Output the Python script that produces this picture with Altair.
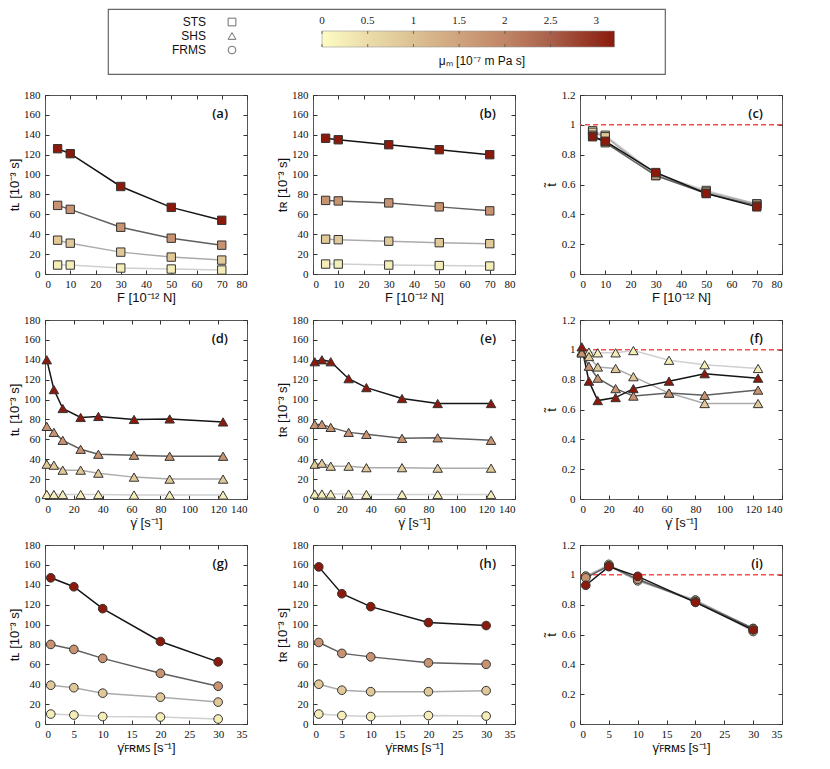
import altair as alt
import pandas as pd

# ---------------- data ----------------
MU = [0.24, 0.87, 1.77, 3.2]          # mu_m of the four series [1e-7 m Pa s]
LINE_GRAYS = ["#d0d0d0", "#ababab", "#5f5f5f", "#141414"]

CMAP_DOM = [0, 0.5, 1.0, 1.5, 2.0, 2.5, 3.2]
CMAP_RNG = ["#fefcc4", "#ebdcaa", "#dcc193", "#cfa37d", "#c08566", "#a9604b", "#8b1a0c"]

F_VALS = [5, 10, 30, 50, 70]
GD_VALS = [1.23, 6.17, 12.3, 24.7, 37.0, 61.7, 86.4, 123.4]
GF_VALS = [1, 5, 10, 20, 30]

tL_F = [[9, 9, 6, 5, 4],
        [34, 31, 22, 17, 14],
        [69, 65, 47, 36, 29],
        [126, 121, 88, 67, 54]]
tR_F = [[10, 10, 9, 8.5, 8],
        [35, 34.5, 33, 31.5, 30.5],
        [74, 73.5, 71.5, 67.5, 63.5],
        [136.5, 135, 130, 125, 120]]
tt_F = [[0.96, 0.93, 0.67, 0.56, 0.47],
        [0.95, 0.92, 0.66, 0.55, 0.47],
        [0.93, 0.88, 0.66, 0.54, 0.46],
        [0.92, 0.89, 0.68, 0.54, 0.45]]

tL_GD = [[4.5, 4.5, 4.5, 4.5, 4.5, 4, 4, 4],
         [35, 34, 29, 29, 26, 22, 20, 20],
         [73, 67, 59, 50, 45, 44, 43, 43],
         [140, 110, 91, 82, 83, 80, 80.5, 77.5]]
tR_GD = [[5, 5, 5, 5, 4.5, 4.5, 4.5, 4.5],
         [35, 36, 33, 33, 31.5, 31.5, 31, 31],
         [75, 75, 72, 67, 65, 61, 61.5, 59],
         [138, 140, 138, 121, 112, 101, 96, 96]]
tt_GD = [[0.99, 0.985, 0.98, 0.98, 0.995, 0.93, 0.90, 0.875],
         [0.98, 0.955, 0.885, 0.875, 0.82, 0.71, 0.64, 0.64],
         [0.98, 0.89, 0.81, 0.74, 0.69, 0.71, 0.695, 0.73],
         [1.02, 0.79, 0.66, 0.68, 0.74, 0.79, 0.84, 0.81]]

tL_GF = [[10, 9, 7.5, 7, 5],
         [39, 36.5, 31, 27, 22],
         [80, 75, 66, 51, 38],
         [147, 138, 116, 83, 62.5]]
tR_GF = [[10, 8.5, 7.5, 8.5, 8],
         [40, 34, 32.5, 32.5, 33.5],
         [82, 71, 67.5, 61.5, 60],
         [158, 131, 118, 102, 99]]
tt_GF = [[0.99, 1.07, 0.97, 0.83, 0.62],
         [0.99, 1.06, 0.96, 0.83, 0.64],
         [0.98, 1.06, 0.97, 0.82, 0.64],
         [0.93, 1.055, 0.99, 0.815, 0.63]]

CB_TICKS = [0, 0.5, 1, 1.5, 2, 2.5, 3]
CB_LABELS = ["0", "0.5", "1", "1.5", "2", "2.5", "3"]
LEG_NAMES = ["STS", "SHS", "FRMS"]
LEG_SHAPES = ["square", "triangle-up", "circle"]

# ---------------- style ----------------
W, H = 202, 179
LABEL_FONT = "Liberation Serif"
TITLE_FONT = "Liberation Sans"
cscale = alt.Scale(domain=CMAP_DOM, range=CMAP_RNG, interpolate="rgb")


def panel(xs, ys_list, shape, size, xdom, xticks, ydom, yticks, xtitle, ytitle,
          label, ref_line=False, yfmt="d", ytpad=2):
    rows = []
    for mu, ys in zip(MU, ys_list):
        for x, y in zip(xs, ys):
            rows.append({"x": x, "y": y, "mu": mu})
    df = pd.DataFrame(rows)
    base = alt.Chart(df)
    common = dict(offset=-4, tickSize=4, tickColor="#333", domain=False, grid=False)
    lab = dict(labelFont=LABEL_FONT, labelFontSize=11, labelColor="#111")
    line = base.mark_line(strokeWidth=1.5).encode(
        x=alt.X("x:Q", scale=alt.Scale(domain=xdom, nice=False),
                axis=alt.Axis(orient="bottom", values=xticks, title=xtitle,
                              labelPadding=4, titlePadding=2, format="d", **common, **lab)),
        y=alt.Y("y:Q", scale=alt.Scale(domain=ydom, nice=False),
                axis=alt.Axis(orient="left", values=yticks, title=ytitle,
                              labelPadding=5, titlePadding=ytpad, format=yfmt, **common, **lab)),
        stroke=alt.Stroke("mu:O", scale=alt.Scale(domain=MU, range=LINE_GRAYS), legend=None),
    )
    pts = base.mark_point(filled=True, shape=shape, size=size, stroke="#333",
                          strokeWidth=1, opacity=1).encode(
        x=alt.X("x:Q", axis=alt.Axis(orient="top", values=xticks, labels=False,
                                     title="", **common)),
        y=alt.Y("y:Q", axis=alt.Axis(orient="right", values=yticks, labels=False,
                                     title="", **common)),
        fill=alt.Fill("mu:Q", scale=cscale, legend=None),
    )
    layers = []
    if ref_line:
        rule = alt.Chart(pd.DataFrame({"r": [1]})).mark_rule(
            color="#ff4a4a", strokeDash=[5, 3], strokeWidth=1.5).encode(
            y=alt.Y("r:Q", axis=None))
        layers.append(rule)
    layers += [line, pts]
    txt = alt.Chart(pd.DataFrame({"t": [label]})).mark_text(
        align="right", baseline="middle", font="Open Sans", fontSize=13,
        fontWeight=600, color="#111").encode(
        text="t:N", x=alt.value(W - 19), y=alt.value(19))
    layers.append(txt)
    return alt.layer(*layers).resolve_axis(x="independent", y="independent").properties(
        width=W, height=H)


tlab = "tʟ [10⁻³ s]"
trlab = "tʀ [10⁻³ s]"
ttlab = "t̃"
Ftitle = "F [10⁻¹² N]"
GDtitle = "γ̇ [s⁻¹]"
GFtitle = "γ̇ꜰʀᴍꜱ [s⁻¹]"
T_TICKS = list(range(0, 181, 20))
TT_TICKS = [0, 0.2, 0.4, 0.6, 0.8, 1, 1.2]
FX = list(range(0, 81, 10))
GDX = list(range(0, 141, 20))
GFX = list(range(0, 36, 5))

panels = [
    panel(F_VALS, tL_F, "square", 70, [0, 80], FX, [0, 180], T_TICKS, Ftitle, tlab, "(a)"),
    panel(F_VALS, tR_F, "square", 70, [0, 80], FX, [0, 180], T_TICKS, Ftitle, trlab, "(b)"),
    panel(F_VALS, tt_F, "square", 70, [0, 80], FX, [0, 1.2], TT_TICKS, Ftitle, ttlab, "(c)", True, "~g", 3),
    panel(GD_VALS, tL_GD, "triangle-up", 90, [0, 140], GDX, [0, 180], T_TICKS, GDtitle, tlab, "(d)"),
    panel(GD_VALS, tR_GD, "triangle-up", 90, [0, 140], GDX, [0, 180], T_TICKS, GDtitle, trlab, "(e)"),
    panel(GD_VALS, tt_GD, "triangle-up", 90, [0, 140], GDX, [0, 1.2], TT_TICKS, GDtitle, ttlab, "(f)", True, "~g", 3),
    panel(GF_VALS, tL_GF, "circle", 75, [0, 35], GFX, [0, 180], T_TICKS, GFtitle, tlab, "(g)"),
    panel(GF_VALS, tR_GF, "circle", 75, [0, 35], GFX, [0, 180], T_TICKS, GFtitle, trlab, "(h)"),
    panel(GF_VALS, tt_GF, "circle", 75, [0, 35], GFX, [0, 1.2], TT_TICKS, GFtitle, ttlab, "(i)", True, "~g", 3),
]

grid = alt.concat(*panels, columns=3, spacing=alt.RowColnumber(row=8, column=28))

# ---------------- legend box ----------------
LW, LH = 557, 65
leg_df = pd.DataFrame({"name": LEG_NAMES, "idx": [0, 1, 2], "shape": LEG_SHAPES})
ysc = alt.Scale(domain=[0, 2], range=[13, 41])
leg_text = alt.Chart(leg_df).mark_text(align="right", baseline="middle", font=TITLE_FONT,
                                       fontSize=12, color="#111").encode(
    text="name:N", x=alt.value(98), y=alt.Y("idx:Q", scale=ysc, axis=None))
leg_sym = alt.Chart(leg_df).mark_point(filled=False, size=60, stroke="#333", strokeWidth=1).encode(
    x=alt.value(124), y=alt.Y("idx:Q", scale=ysc, axis=None),
    shape=alt.Shape("shape:N", scale=None, legend=None))

stops = [alt.GradientStop(color=c, offset=d / 3.2) for d, c in zip(CMAP_DOM, CMAP_RNG)]
xcb = alt.Scale(domain=[0, 3.2], range=[214, 534])
cb = alt.Chart(pd.DataFrame({"a": [0], "b": [3.2]})).mark_rect(
    fill=alt.Gradient(gradient="linear", stops=stops, x1=0, x2=1, y1=0, y2=0),
    stroke="#999", strokeWidth=0.6).encode(
    x=alt.X("a:Q", scale=xcb, axis=None), x2="b:Q", y=alt.value(22), y2=alt.value(38))
cb_tick_df = pd.DataFrame({"v": CB_TICKS, "lab": CB_LABELS})
cb_lab = alt.Chart(cb_tick_df).mark_text(baseline="middle", font=LABEL_FONT, fontSize=11,
                                         color="#222").encode(
    x=alt.X("v:Q", axis=None), y=alt.value(12), text="lab:N")
cb_t1 = alt.Chart(cb_tick_df).mark_rule(color="#555", strokeWidth=0.8).encode(
    x=alt.X("v:Q", axis=None), y=alt.value(22), y2=alt.value(25))
cb_t2 = alt.Chart(cb_tick_df).mark_rule(color="#555", strokeWidth=0.8).encode(
    x=alt.X("v:Q", axis=None), y=alt.value(35), y2=alt.value(38))
cb_title = alt.Chart(pd.DataFrame({"t": ["μₘ [10⁻⁷ m Pa s]"]})).mark_text(
    baseline="middle", font=TITLE_FONT, fontSize=12, color="#111").encode(
    text="t:N", x=alt.value(374), y=alt.value(52))

legend = alt.layer(cb, cb_t1, cb_t2, cb_lab, cb_title, leg_text, leg_sym).properties(
    width=LW, height=LH, view=alt.ViewBackground(stroke="#666", strokeWidth=1.2))

spacer = alt.Chart(pd.DataFrame({"t": [""]})).mark_text().encode(text="t:N").properties(
    width=52, height=LH, view=alt.ViewBackground(stroke=None))

top = alt.hconcat(spacer, legend, spacing=10)

chart = alt.vconcat(top, grid, spacing=13).properties(
    padding=0, background="white"
).configure_view(
    stroke="#555", strokeWidth=1
).configure_axis(
    labelFont=LABEL_FONT, labelFontSize=11, labelColor="#111",
    titleFont=TITLE_FONT, titleFontSize=13, titleFontWeight="normal", titleColor="#111"
)

chart.save("out.html", embed_options={"renderer": "svg", "actions": False})
